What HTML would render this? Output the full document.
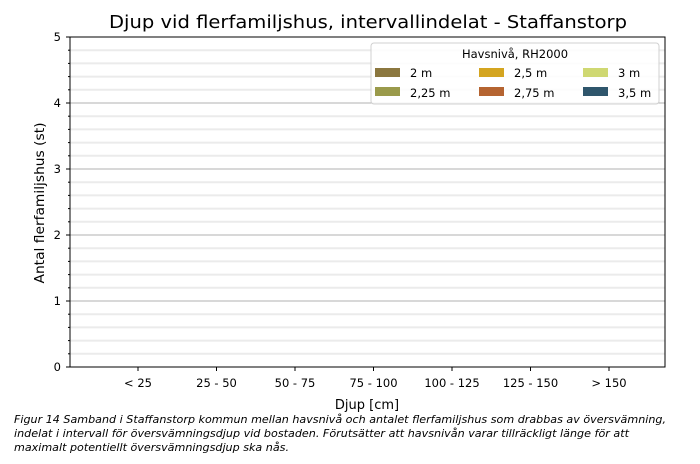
<!DOCTYPE html>
<html><head><meta charset="utf-8"><style>
body{margin:0;background:#fff;width:700px;height:459px;overflow:hidden}
svg text{font-family:"DejaVu Sans","Liberation Sans",sans-serif;fill:#000}
</style></head><body>
<svg width="700" height="459" xmlns="http://www.w3.org/2000/svg">
<rect width="700" height="459" fill="#fff"/>
<text x="368" y="28" font-size="18" text-anchor="middle" textLength="518" lengthAdjust="spacingAndGlyphs">Djup vid flerfamiljshus, intervallindelat - Staffanstorp</text>
<g stroke="#ebebeb" stroke-width="2">
<line x1="70" x2="665" y1="353.8" y2="353.8"/><line x1="70" x2="665" y1="340.6" y2="340.6"/><line x1="70" x2="665" y1="327.4" y2="327.4"/><line x1="70" x2="665" y1="314.2" y2="314.2"/>
<line x1="70" x2="665" y1="287.8" y2="287.8"/><line x1="70" x2="665" y1="274.6" y2="274.6"/><line x1="70" x2="665" y1="261.4" y2="261.4"/><line x1="70" x2="665" y1="248.2" y2="248.2"/>
<line x1="70" x2="665" y1="221.8" y2="221.8"/><line x1="70" x2="665" y1="208.6" y2="208.6"/><line x1="70" x2="665" y1="195.4" y2="195.4"/><line x1="70" x2="665" y1="182.2" y2="182.2"/>
<line x1="70" x2="665" y1="155.8" y2="155.8"/><line x1="70" x2="665" y1="142.6" y2="142.6"/><line x1="70" x2="665" y1="129.4" y2="129.4"/><line x1="70" x2="665" y1="116.2" y2="116.2"/>
<line x1="70" x2="665" y1="89.8" y2="89.8"/><line x1="70" x2="665" y1="76.6" y2="76.6"/><line x1="70" x2="665" y1="63.4" y2="63.4"/><line x1="70" x2="665" y1="50.2" y2="50.2"/>
</g>
<g stroke="#b0b0b0" stroke-width="1">
<line x1="70" x2="665" y1="301" y2="301"/><line x1="70" x2="665" y1="235" y2="235"/><line x1="70" x2="665" y1="169" y2="169"/><line x1="70" x2="665" y1="103" y2="103"/>
</g>
<rect x="70" y="37" width="595" height="330" fill="none" stroke="#000" stroke-width="1"/>
<g stroke="#000">
<line x1="66" x2="70" y1="367" y2="367"/><line x1="66" x2="70" y1="301" y2="301"/><line x1="66" x2="70" y1="235" y2="235"/><line x1="66" x2="70" y1="169" y2="169"/><line x1="66" x2="70" y1="103" y2="103"/><line x1="66" x2="70" y1="37" y2="37"/>
<line x1="68" x2="70" y1="353.8" y2="353.8"/><line x1="68" x2="70" y1="340.6" y2="340.6"/><line x1="68" x2="70" y1="327.4" y2="327.4"/><line x1="68" x2="70" y1="314.2" y2="314.2"/>
<line x1="68" x2="70" y1="287.8" y2="287.8"/><line x1="68" x2="70" y1="274.6" y2="274.6"/><line x1="68" x2="70" y1="261.4" y2="261.4"/><line x1="68" x2="70" y1="248.2" y2="248.2"/>
<line x1="68" x2="70" y1="221.8" y2="221.8"/><line x1="68" x2="70" y1="208.6" y2="208.6"/><line x1="68" x2="70" y1="195.4" y2="195.4"/><line x1="68" x2="70" y1="182.2" y2="182.2"/>
<line x1="68" x2="70" y1="155.8" y2="155.8"/><line x1="68" x2="70" y1="142.6" y2="142.6"/><line x1="68" x2="70" y1="129.4" y2="129.4"/><line x1="68" x2="70" y1="116.2" y2="116.2"/>
<line x1="68" x2="70" y1="89.8" y2="89.8"/><line x1="68" x2="70" y1="76.6" y2="76.6"/><line x1="68" x2="70" y1="63.4" y2="63.4"/><line x1="68" x2="70" y1="50.2" y2="50.2"/>
<line x1="138" x2="138" y1="367" y2="371"/><line x1="216.5" x2="216.5" y1="367" y2="371"/><line x1="295" x2="295" y1="367" y2="371"/><line x1="373.5" x2="373.5" y1="367" y2="371"/><line x1="452" x2="452" y1="367" y2="371"/><line x1="530.5" x2="530.5" y1="367" y2="371"/><line x1="609" x2="609" y1="367" y2="371"/>
</g>
<g font-size="11.5" text-anchor="end">
<text x="61" y="371">0</text><text x="61" y="305">1</text><text x="61" y="239">2</text><text x="61" y="173">3</text><text x="61" y="107">4</text><text x="61" y="41">5</text>
</g>
<g font-size="11.5" text-anchor="middle">
<text x="138" y="387">&lt; 25</text><text x="216.5" y="387">25 - 50</text><text x="295" y="387">50 - 75</text><text x="373.5" y="387">75 - 100</text><text x="452" y="387">100 - 125</text><text x="530.5" y="387">125 - 150</text><text x="609" y="387">&gt; 150</text>
</g>
<text x="367" y="409" font-size="13" text-anchor="middle">Djup [cm]</text>
<text transform="translate(44,203) rotate(-90)" font-size="13" text-anchor="middle" textLength="161" lengthAdjust="spacingAndGlyphs">Antal flerfamiljshus (st)</text>
<rect x="371" y="43" width="288" height="61" rx="3" fill="#fff" fill-opacity="0.85" stroke="#d0d0d0"/>
<text x="515" y="58" font-size="11.5" text-anchor="middle">Havsnivå, RH2000</text>
<g font-size="11.5">
<rect x="375" y="68" width="25" height="9" fill="#8b773f"/><text x="410" y="77">2 m</text>
<rect x="375" y="87" width="25" height="9" fill="#9a9a4b"/><text x="410" y="97">2,25 m</text>
<rect x="479" y="68" width="25" height="9" fill="#d4a520"/><text x="514" y="77">2,5 m</text>
<rect x="479" y="87" width="25" height="9" fill="#b56431"/><text x="514" y="97">2,75 m</text>
<rect x="583" y="68" width="25" height="9" fill="#cfd872"/><text x="618" y="77">3 m</text>
<rect x="583" y="87" width="25" height="9" fill="#2f566c"/><text x="618" y="97">3,5 m</text>
</g>
<g font-size="10.5" font-style="italic">
<text x="14" y="423" textLength="652" lengthAdjust="spacingAndGlyphs">Figur 14 Samband i Staffanstorp kommun mellan havsnivå och antalet flerfamiljshus som drabbas av översvämning,</text>
<text x="14" y="437" textLength="615" lengthAdjust="spacingAndGlyphs">indelat i intervall för översvämningsdjup vid bostaden. Förutsätter att havsnivån varar tillräckligt länge för att</text>
<text x="14" y="451" textLength="275" lengthAdjust="spacingAndGlyphs">maximalt potentiellt översvämningsdjup ska nås.</text>
</g>
</svg>
</body></html>
